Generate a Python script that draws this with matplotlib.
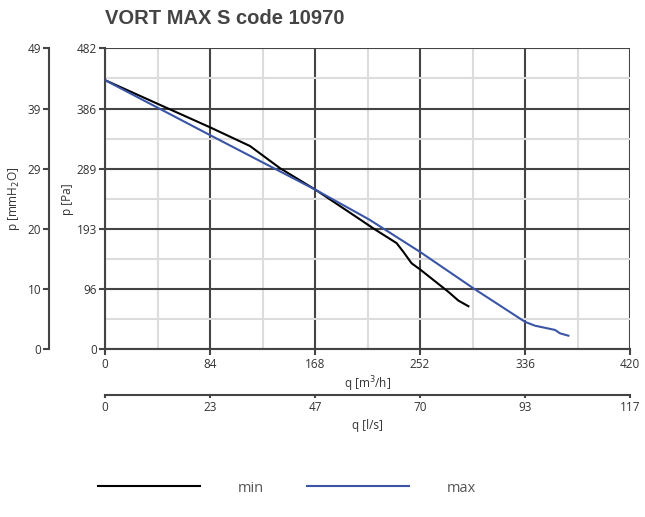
import matplotlib
matplotlib.use('Agg')
import matplotlib.pyplot as plt
import numpy as np

plt.rcParams['font.family'] = ['Open Sans', 'DejaVu Sans']

# data (q in m3/h, p in Pa)
q_min = [0, 40, 84, 116, 140, 168.8, 204, 214.6, 233.3, 238.7, 245.3, 252, 274.7, 282.7, 290.7]
p_min = [431, 395, 355.5, 325.5, 290, 255, 208, 193.7, 170, 156, 137.7, 128, 92, 78, 69]
q_max = [0, 84, 168.8, 204, 212, 252, 294.7, 336, 344, 360, 364, 370.7]
p_max = [431, 343, 255, 216, 207, 156, 97.7, 44, 37.8, 31, 25.6, 21.8]

pa_ticks = [0, 96.4, 192.8, 289.2, 385.6, 482]
pa_labels = ['0', '96', '193', '289', '386', '482']
mm_labels = ['0', '10', '20', '29', '39', '49']
q_ticks = [0, 84, 168, 252, 336, 420]
ls_labels = ['0', '23', '47', '70', '93', '117']

dark = '#444444'
light = '#dcdcdc'
txt = '#333333'

fig = plt.figure(figsize=(6.45, 5.17), dpi=100)
ax = fig.add_axes([105/645, 1-349.3/517, 525/645, 301/517])

ax.plot(q_min, p_min, color='black', lw=1.5, label='min', zorder=5)
ax.plot(q_max, p_max, color='#3a55a6', lw=1.5, label='max', zorder=5)

ax.set_xlim(0, 420)
ax.set_ylim(0, 482)
ax.set_xticks(q_ticks)
ax.set_xticks([42, 126, 210, 294, 378], minor=True)
ax.set_yticks(pa_ticks)
ax.set_yticklabels(pa_labels)
ax.set_yticks([48.2, 144.6, 241, 337.4, 433.8], minor=True)
ax.grid(which='major', color=dark, lw=1.5)
ax.grid(which='minor', color=light, lw=1.5)
ax.set_axisbelow(True)
for s in ['top', 'right']:
    ax.spines[s].set_visible(False)
for s in ['left', 'bottom']:
    ax.spines[s].set_color(dark)
    ax.spines[s].set_linewidth(1.5)
ax.tick_params(which='major', length=4, width=1.5, color=dark, labelsize=8.5, labelcolor=txt, pad=2)
ax.tick_params(which='minor', length=0)
ax.set_xlabel('q [m$^3$/h]', fontsize=8.5, color=txt, labelpad=3)
ax.set_ylabel('p [Pa]', fontsize=8.5, color=txt, labelpad=2)

# second y axis (mmH2O)
ax2 = ax.twinx()
ax2.set_ylim(0, 482)
ax2.yaxis.set_ticks_position('left')
ax2.yaxis.set_label_position('left')
ax2.spines['left'].set_position(('outward', 40))
for s in ['top', 'right', 'bottom']:
    ax2.spines[s].set_visible(False)
ax2.spines['left'].set_color(dark)
ax2.spines['left'].set_linewidth(1.5)
ax2.set_yticks(pa_ticks)
ax2.set_yticklabels(mm_labels)
ax2.tick_params(length=4, width=1.5, color=dark, labelsize=8.5, labelcolor=txt, pad=2)
ax2.set_ylabel('p [mmH$_2$O]', fontsize=8.5, color=txt, labelpad=4)

# second x axis (l/s)
ax3 = ax.twiny()
ax3.set_xlim(0, 420)
ax3.xaxis.set_ticks_position('bottom')
ax3.xaxis.set_label_position('bottom')
ax3.spines['bottom'].set_position(('outward', 33))
for s in ['top', 'right', 'left']:
    ax3.spines[s].set_visible(False)
ax3.spines['bottom'].set_color(dark)
ax3.spines['bottom'].set_linewidth(1.5)
ax3.set_xticks(q_ticks)
ax3.set_xticklabels(ls_labels)
ax3.tick_params(direction='out', length=2.5, width=1.5, color=dark, labelsize=8.5, labelcolor=txt, pad=2)
ax3.set_xlabel('q [l/s]', fontsize=8.5, color=txt, labelpad=3)

fig.text(105/645, 1-19/517, 'VORT MAX S code 10970', fontsize=14.5, fontweight='bold',
         color='#444444', va='center', ha='left', family=['Liberation Sans', 'DejaVu Sans'])

fig.legend(loc='center', bbox_to_anchor=(0.445, 1-488/517), ncol=2, frameon=False,
           handlelength=7.0, handletextpad=2.6, columnspacing=2.9, fontsize=10.5,
           labelcolor='#555555')

fig.savefig('out.png', dpi=100)
